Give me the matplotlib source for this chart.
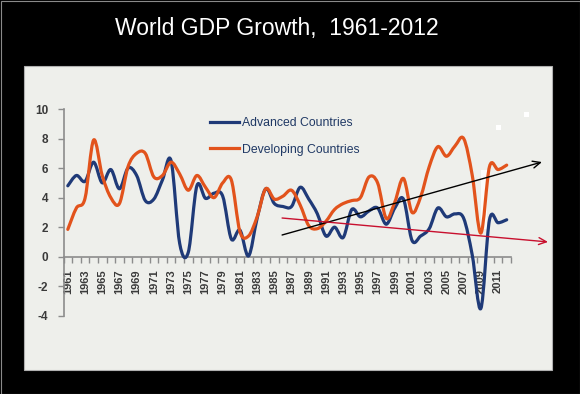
import numpy as np
import matplotlib.pyplot as plt
from matplotlib.path import Path
from matplotlib.patches import PathPatch, Rectangle
from matplotlib.lines import Line2D

years = list(range(1961, 2013))
advanced = [4.8, 5.5, 5.1, 6.4, 5.0, 5.9, 4.6, 6.0, 5.5, 3.8,
            3.9, 5.2, 6.5, 0.9, 0.3, 4.8, 3.95, 4.3, 4.1, 1.2,
            1.8, 0.05, 2.6, 4.6, 3.6, 3.4, 3.4, 4.7, 3.9, 2.9,
            1.4, 2.0, 1.3, 3.2, 2.7, 3.1, 3.3, 2.2, 3.3, 3.9,
            1.1, 1.4, 1.9, 3.3, 2.7, 2.9, 2.6, 0.1, -3.5, 2.5,
            2.3, 2.5]
developing = [1.85, 3.3, 3.95, 7.9, 5.5, 4.0, 3.6, 6.1, 7.0, 7.0,
              5.4, 5.5, 6.4, 5.6, 4.5, 5.5, 4.7, 4.0, 5.0, 5.2,
              1.7, 1.4, 2.7, 4.6, 3.9, 4.1, 4.5, 3.5, 2.1, 1.9,
              2.4, 3.2, 3.6, 3.8, 4.0, 5.4, 5.0, 2.6, 3.7, 5.3,
              3.0, 4.05, 6.1, 7.45, 6.8, 7.5, 8.0, 5.5, 1.6, 6.1,
              5.9, 6.2]
series_names = ['Advanced Countries', 'Developing Countries']
year_labels = [str(y) for y in range(1961, 2013, 2)]
y_ticks = [-4, -2, 0, 2, 4, 6, 8, 10]

# hand drawn trend arrows, (year, growth) start -> end
black_arrow = [(1985.9, 1.47), (2016.1, 6.41)]
red_arrow = [(1985.9, 2.62), (2016.8, 1.0)]

blue = '#1f3a78'
orange = '#e2531c'


def smooth_path(x, y):
    # excel-like smoothed line: bezier segments through each point
    pts = np.column_stack([x, y]).astype(float)
    n = len(pts)
    verts = [pts[0]]
    codes = [Path.MOVETO]
    for i in range(n - 1):
        p0 = pts[max(i - 1, 0)]
        p1 = pts[i]
        p2 = pts[i + 1]
        p3 = pts[min(i + 2, n - 1)]
        verts += [p1 + (p2 - p0) / 6, p2 - (p3 - p1) / 6, p2]
        codes += [Path.CURVE4] * 3
    return Path(verts, codes)


W, H = 580, 394
fig = plt.figure(figsize=(5.8, 3.94), dpi=100, facecolor='black')

# light panel behind the chart
fig.patches.append(Rectangle((24 / W, 1 - 370 / H), 528 / W, 304 / H,
                             transform=fig.transFigure, facecolor='#eeefeb',
                             edgecolor='#b0b0b0', lw=0.8, zorder=-2))
fig.patches.append(Rectangle((0.5 / W, 0.5 / H), 1 - 1 / W, 1 - 1 / H,
                             transform=fig.transFigure, facecolor='none',
                             edgecolor='#8a8a8a', lw=0.8, zorder=-2))
fig.patches.append(Rectangle((496 / W, 1 - 130 / H), 5 / W, 5 / H,
                             transform=fig.transFigure, facecolor='white', zorder=-1))
fig.patches.append(Rectangle((524 / W, 1 - 117 / H), 5 / W, 5 / H,
                             transform=fig.transFigure, facecolor='white', zorder=-1))

fig.text(277 / W, 1 - 29 / H, 'World GDP Growth,  1961-2012', color='white',
         fontsize=16.5, family='Liberation Sans', ha='center', va='center')

ax = fig.add_axes([63.5 / W, 1 - 315.8 / H, (511 - 63.5) / W, (315.8 - 109) / H])
ax.set_facecolor('none')

for vals, col in [(advanced, blue), (developing, orange)]:
    ax.add_patch(PathPatch(smooth_path(years, vals), facecolor='none',
                           edgecolor=col, lw=2.3, capstyle='round',
                           joinstyle='round', zorder=3))

# white smudge from the original slide
ax.add_patch(Rectangle((2009.0, 1.9), 0.75, 4.0, facecolor='white',
                       edgecolor='none', alpha=0.8, zorder=2))

for (p0, p1), col in [(black_arrow, 'black'), (red_arrow, '#c8102e')]:
    ax.annotate('', xy=p1, xytext=p0, annotation_clip=False,
                arrowprops=dict(arrowstyle='->,head_length=0.55,head_width=0.25',
                                color=col, lw=1.0, shrinkA=0, shrinkB=0), zorder=4)

ax.set_xlim(1960.5, 2012.5)
ax.set_ylim(-4, 10)

for s in ['top', 'right']:
    ax.spines[s].set_visible(False)
ax.spines['bottom'].set_position(('data', 0))
for s in ['left', 'bottom']:
    ax.spines[s].set_color('#8c8c8c')
    ax.spines[s].set_linewidth(1.2)

ax.set_xticks(range(1961, 2013, 2))
ax.set_xticklabels(year_labels, rotation=90, fontsize=8, fontweight='bold',
                   color='#3a3a3a', family='Liberation Sans')
ax.set_xticks(np.arange(1960.5, 2013, 1), minor=True)
ax.tick_params(axis='x', which='major', length=0, pad=9)
ax.tick_params(axis='x', which='minor', length=4, width=1, color='#8c8c8c',
               direction='out')

ax.set_yticks(y_ticks)
ax.set_yticklabels([str(v) for v in y_ticks], fontsize=8.5, fontweight='bold',
                   color='#3a3a3a', family='Liberation Sans')
ax.tick_params(axis='y', length=4, width=1, color='#8c8c8c', pad=7)

handles = [Line2D([], [], color=blue, lw=2.3), Line2D([], [], color=orange, lw=2.3)]
leg = ax.legend(handles, series_names, loc='upper left',
                bbox_to_anchor=((210 - 63.5) / 447.5, 0.96), frameon=False,
                borderpad=0, borderaxespad=0, handlelength=2.4, handletextpad=0.2,
                labelspacing=1.17, prop={'family': 'Liberation Sans', 'size': 8.8})
for t in leg.get_texts():
    t.set_color('#1f3864')

fig.savefig('out.png', dpi=100, facecolor='black')
